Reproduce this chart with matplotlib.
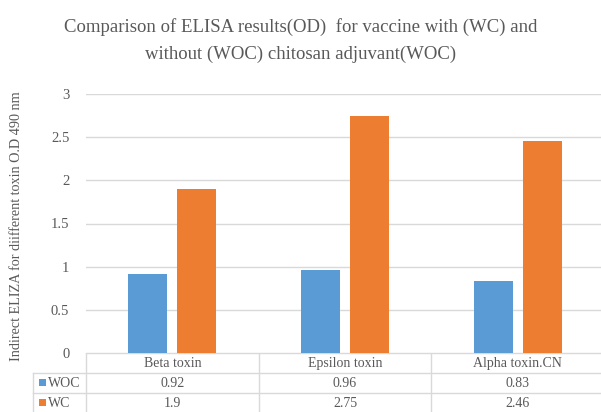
import matplotlib.pyplot as plt
import numpy as np

categories = ['Beta toxin', 'Epsilon toxin', 'Alpha toxin.CN']
series_names = ['WOC', 'WC']
woc_values = [0.92, 0.96, 0.83]
wc_values = [1.9, 2.75, 2.46]
value_labels = [['0.92', '0.96', '0.83'], ['1.9', '2.75', '2.46']]
y_ticks = [0, 0.5, 1, 1.5, 2, 2.5, 3]
y_tick_labels = ['0', '0.5', '1', '1.5', '2', '2.5', '3']

colors = ['#5B9BD5', '#ED7D31']
grid_color = '#D9D9D9'
text_color = '#595959'

plt.rcParams['font.family'] = ['Liberation Serif', 'DejaVu Serif']

W, H = 601, 412
fig = plt.figure(figsize=(W / 100, H / 100), dpi=100)

# main plot area, in pixel measurements from the reference
left_px, right_px = 86, 604
top_px, zero_px = 94, 353
ax = fig.add_axes([left_px / W, 1 - zero_px / H,
                   (right_px - left_px) / W, (zero_px - top_px) / H])

x = np.arange(len(categories))
width = 0.225
offset = 0.142
ax.bar(x - offset, woc_values, width, color=colors[0], zorder=3)
ax.bar(x + offset, wc_values, width, color=colors[1], zorder=3)

ax.set_xlim(-0.5, len(categories) - 0.5)
ax.set_ylim(0, 3)
ax.set_yticks(y_ticks)
ax.set_yticklabels(y_tick_labels, fontsize=10.5, color=text_color)
ax.set_xticks([])
ax.tick_params(axis='y', length=0, pad=12)
ax.grid(axis='y', color=grid_color, linewidth=1, zorder=0)
for s in ax.spines.values():
    s.set_visible(False)

ax.set_ylabel('Indirect ELIZA for diifferent toxin O.D 490 nm',
              fontsize=10.2, color=text_color)
ax.yaxis.set_label_coords(-0.122, 0.49)

fig.text(0.5, 1 - 18 / H,
         'Comparison of ELISA results(OD)  for vaccine with (WC) and\n'
         'without (WOC) chitosan adjuvant(WOC)',
         ha='center', va='top', fontsize=13.5, color=text_color,
         linespacing=1.75)

# data table below the plot
tab = fig.add_axes([0, 0, 1, 1 - zero_px / H + 0.0001])
tab.set_xlim(0, W)
tab.set_ylim(H, zero_px)
tab.axis('off')

row_lines = [353, 373, 393, 413]
col_edges = [left_px + i * (right_px - left_px) / 3 for i in range(4)]
legend_left = 33

lw = 1
# horizontal lines
tab.plot([left_px, W], [row_lines[0]] * 2, color=grid_color, lw=lw)
for yl in row_lines[1:]:
    tab.plot([legend_left, W], [yl] * 2, color=grid_color, lw=lw)
# vertical lines
tab.plot([legend_left] * 2, [row_lines[1], H], color=grid_color, lw=lw)
for xe in col_edges:
    tab.plot([xe] * 2, [row_lines[0], H], color=grid_color, lw=lw)

for i, cat in enumerate(categories):
    cx = (col_edges[i] + col_edges[i + 1]) / 2
    tab.text(cx, (row_lines[0] + row_lines[1]) / 2 + 1, cat, ha='center',
             va='center', fontsize=10, color=text_color)
    for r in range(2):
        tab.text(cx, (row_lines[r + 1] + row_lines[r + 2]) / 2 + 1,
                 value_labels[r][i], ha='center', va='center',
                 fontsize=10, color=text_color)

for r, name in enumerate(series_names):
    cy = (row_lines[r + 1] + row_lines[r + 2]) / 2
    tab.add_patch(plt.Rectangle((39, cy - 3.5), 7, 7, color=colors[r], lw=0))
    tab.text(48, cy + 1, name, ha='left', va='center', fontsize=10,
             color=text_color)

fig.savefig('out.png', dpi=100)
